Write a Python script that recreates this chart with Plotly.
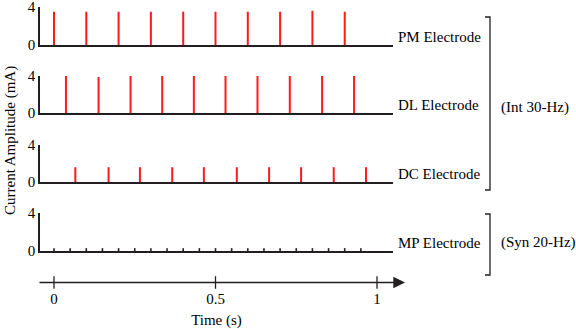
import plotly.graph_objects as go

# spike times (s) and amplitudes (mA)
pm_times = [0.00, 0.10, 0.20, 0.30, 0.40, 0.50, 0.60, 0.70, 0.80, 0.90]
pm_amps = [3.5, 3.5, 3.5, 3.5, 3.5, 3.5, 3.5, 3.5, 3.6, 3.5]
dl_times = [0.037, 0.138, 0.237, 0.335, 0.433, 0.531, 0.630, 0.730, 0.830, 0.929]
dl_amps = [4.0, 3.9, 4.0, 4.0, 4.0, 4.0, 4.0, 4.0, 4.0, 4.0]
dc_times = [0.066, 0.169, 0.266, 0.366, 0.464, 0.566, 0.666, 0.765, 0.866, 0.966]
dc_amps = [1.6, 1.6, 1.6, 1.6, 1.6, 1.6, 1.6, 1.6, 1.6, 1.6]
mp_times = [0.00, 0.05, 0.10, 0.15, 0.20, 0.25, 0.30, 0.35, 0.40, 0.45,
            0.50, 0.55, 0.60, 0.65, 0.70, 0.75, 0.80, 0.85, 0.90, 0.95]
mp_amps = [0.3] * 20

electrodes = ['PM Electrode', 'DL Electrode', 'DC Electrode', 'MP Electrode']
groups = ['(Int 30-Hz)', '(Syn 20-Hz)']
y_ticks = [0, 4]
time_ticks = [0, 0.5, 1]
time_labels = ['0', '0.5', '1']

W, H = 576, 329
FONT = 'Liberation Serif'
INK = '#231f20'
RED = '#ff1a1a'


def px(x):
    return x / W


def py(y):
    return 1 - y / H


def spikes(times, amps):
    xs, ys = [], []
    for t, a in zip(times, amps):
        xs += [t, t, None]
        ys += [0, a, None]
    return xs, ys


xrange_ = [-0.0433, 1.0495]
xdom = [px(40), px(393)]
# (y of value 0, y of value 4) in pixels for each panel
panels = [(45, 7), (113, 76), (182, 145), (251, 213)]
series = [(pm_times, pm_amps, RED, 2), (dl_times, dl_amps, RED, 2),
          (dc_times, dc_amps, RED, 2), (mp_times, mp_amps, INK, 1.6)]

fig = go.Figure()
layout = {}
for i, ((t, a, col, w), (y0, y4)) in enumerate(zip(series, panels)):
    n = '' if i == 0 else str(i + 1)
    xs, ys = spikes(t, a)
    fig.add_trace(go.Scatter(x=xs, y=ys, mode='lines', line=dict(color=col, width=w),
                             xaxis='x' + n, yaxis='y' + n, hoverinfo='skip'))
    layout['xaxis' + n] = dict(domain=xdom, range=xrange_, anchor='y' + n, showline=True,
                               linecolor=INK, linewidth=1.5, showticklabels=False,
                               ticks='', showgrid=False, zeroline=False, automargin=False)
    layout['yaxis' + n] = dict(domain=[py(y0), py(y4)], range=[0, 4], anchor='x' + n,
                               showline=True, linecolor=INK, linewidth=1.5,
                               ticks='inside', ticklen=4, tickcolor=INK, tickwidth=1.5,
                               tickvals=y_ticks, showgrid=False, zeroline=False,
                               automargin=False, ticklabeloverflow='allow',
                               tickfont=dict(family=FONT, size=15, color='black'))
    fig.add_annotation(text=electrodes[i], xref='paper', yref='paper', x=px(396),
                       y=py(y0 - 8), xanchor='left', yanchor='middle', showarrow=False,
                       font=dict(family=FONT, size=15, color='black'))

# time axis
fig.add_trace(go.Scatter(x=time_ticks, y=[0] * len(time_ticks), mode='markers',
                         marker=dict(symbol='line-ns', size=9, line=dict(color=INK, width=1.3)),
                         xaxis='x5', yaxis='y5', hoverinfo='skip', cliponaxis=False))
layout['xaxis5'] = dict(domain=xdom, range=xrange_, anchor='y5', showline=False,
                        tickvals=time_ticks, ticktext=time_labels, ticks='',
                        showgrid=False, zeroline=False, automargin=False,
                        ticklabeloverflow='allow',
                        tickfont=dict(family=FONT, size=15, color='black'),
                        title=dict(text='Time (s)', standoff=9,
                                   font=dict(family=FONT, size=15, color='black')))
layout['yaxis5'] = dict(domain=[py(288), py(277)], range=[-1, 1], anchor='x5',
                        visible=False, automargin=False)
fig.add_annotation(x=px(405), y=py(282.5), xref='paper', yref='paper',
                   ax=-367, ay=0, axref='pixel', ayref='pixel', showarrow=True,
                   arrowhead=2, arrowsize=1.8, arrowwidth=1.3, arrowcolor=INK,
                   standoff=0, startstandoff=0, text='')

# brackets
for top, bot, label, ly in [(17, 190, groups[0], 107), (214, 275, groups[1], 242)]:
    fig.add_shape(type='path', xref='paper', yref='paper',
                  path=f'M {px(485)},{py(top)} L {px(490)},{py(top)} L {px(490)},{py(bot)} L {px(485)},{py(bot)}',
                  line=dict(color=INK, width=1.3))
    fig.add_annotation(text=label, xref='paper', yref='paper', x=px(499), y=py(ly),
                       xanchor='left', yanchor='middle', showarrow=False,
                       font=dict(family=FONT, size=15, color='black'))

fig.add_annotation(text='Current Amplitude (mA)', xref='paper', yref='paper', x=px(10),
                   y=py(141), textangle=-90, showarrow=False, xanchor='center', yanchor='middle',
                   font=dict(family=FONT, size=15, color='black'))

fig.update_layout(width=W, height=H, margin=dict(l=0, r=0, t=0, b=0),
                  paper_bgcolor='white', plot_bgcolor='white', showlegend=False, **layout)
fig.write_html('out.html', config={'displayModeBar': False},
               post_script="document.body.style.margin='0';")
